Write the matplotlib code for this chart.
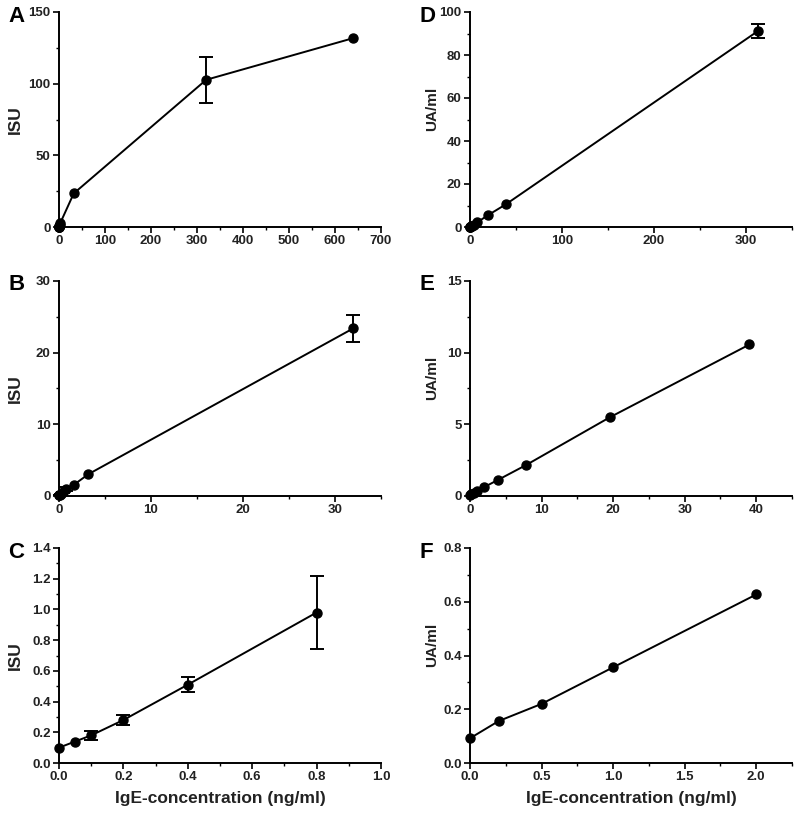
import numpy as np
import matplotlib.pyplot as plt
from matplotlib.ticker import MultipleLocator

plt.rcParams['font.family'] = ['Liberation Sans', 'DejaVu Sans']
plt.rcParams['font.weight'] = 'bold'

# ISU panels (A, B, C)
isu_x = [0, 0.05, 0.1, 0.2, 0.4, 0.8, 1.6, 3.2, 32, 320, 640]
isu_y = [0.10, 0.14, 0.18, 0.28, 0.51, 0.98, 1.55, 3.05, 23.4, 102.7, 131.8]
isu_err = [0.0, 0.0, 0.027, 0.035, 0.05, 0.235, 0.0, 0.0, 1.85, 16.2, 0.0]
isu_err_a = [0, 0, 0, 0, 0, 0, 0, 0, 0, 16.2, 0]  # panel A shows only the 320 bar

# UA/ml panels (D, E, F)
ua_x = [0, 0.2, 0.5, 1.0, 2.0, 3.9, 7.8, 19.5, 39.06, 312.5]
ua_y = [0.092, 0.156, 0.22, 0.356, 0.627, 1.12, 2.15, 5.48, 10.57, 91.0]
ua_err = [0, 0, 0, 0, 0, 0, 0, 0, 0, 3.3]

# letter, data, x max for data, xlim, ylim, x major, x minor, y major, y minor, ylabel
panels = [
    ("A", "isu_a", 640, 700, 150, 100, 50, 50, 25, "ISU"),
    ("B", "isu", 32, 35, 30, 10, 5, 10, 5, "ISU"),
    ("C", "isu", 0.8, 1.0, 1.4, 0.2, 0.1, 0.2, 0.1, "ISU"),
    ("D", "ua", 312.5, 350, 100, 100, 50, 20, 10, "UA/ml"),
    ("E", "ua", 39.06, 45, 15, 10, 5, 5, 2.5, "UA/ml"),
    ("F", "ua", 2.0, 2.25, 0.8, 0.5, 0.25, 0.2, 0.1, "UA/ml"),
]

fig = plt.figure(figsize=(8, 8.16), dpi=100)
W, H = 800, 816
lefts = [59, 470]
tops = [12, 281, 548]
aw, ah = 322, 215

for i, (letter, src, xmax, xlim, ylim, xmaj, xmin, ymaj, ymin, ylab) in enumerate(panels):
    col = i // 3
    row = i % 3
    left = lefts[col]
    top = tops[row]
    ax = fig.add_axes([left / W, 1 - (top + ah) / H, aw / W, ah / H])

    if src == "isu":
        x, y, e = np.array(isu_x), np.array(isu_y), np.array(isu_err)
    elif src == "isu_a":
        x, y, e = np.array(isu_x), np.array(isu_y), np.array(isu_err_a)
    else:
        x, y, e = np.array(ua_x), np.array(ua_y), np.array(ua_err)
    keep = x <= xmax
    x, y, e = x[keep], y[keep], e[keep]

    ax.plot(x, y, color='black', lw=1.4, clip_on=False, zorder=3)
    ax.errorbar(x[e > 0], y[e > 0], yerr=e[e > 0], fmt='none', ecolor='black',
                elinewidth=1.4, capsize=5, capthick=1.4, clip_on=False, zorder=3)
    ax.plot(x, y, 'o', color='black', ms=6.5, clip_on=False, zorder=4)

    ax.set_xlim(0, xlim)
    ax.set_ylim(0, ylim)
    ax.xaxis.set_major_locator(MultipleLocator(xmaj))
    ax.xaxis.set_minor_locator(MultipleLocator(xmin))
    ax.yaxis.set_major_locator(MultipleLocator(ymaj))
    ax.yaxis.set_minor_locator(MultipleLocator(ymin))
    if letter in ("C", "F"):
        ax.xaxis.set_major_formatter(lambda v, p: f"{v:.1f}")
        ax.yaxis.set_major_formatter(lambda v, p: f"{v:.1f}")
    else:
        ax.xaxis.set_major_formatter(lambda v, p: f"{v:g}")
        ax.yaxis.set_major_formatter(lambda v, p: f"{v:g}")

    for s in ("top", "right"):
        ax.spines[s].set_visible(False)
    for s in ("left", "bottom"):
        ax.spines[s].set_linewidth(1.4)
    ax.tick_params(which='major', length=4, width=1.2, labelsize=9.5, pad=2,
                   labelcolor='#222222')
    ax.tick_params(which='minor', length=2.5, width=1.0)
    for lbl in ax.get_xticklabels() + ax.get_yticklabels():
        lbl.set_fontweight('bold')

    if ylab == "ISU":
        ax.set_ylabel(ylab, fontsize=12.5, fontweight='bold', color='#222222')
        ax.yaxis.set_label_coords(-0.112, 0.5)
    else:
        ax.set_ylabel(ylab, fontsize=11, fontweight='bold', color='#222222')
        ax.yaxis.set_label_coords(-0.095, 0.55)
    if letter in ("C", "F"):
        ax.set_xlabel("IgE-concentration (ng/ml)", fontsize=12.5, fontweight='bold',
                      color='#222222')
        ax.xaxis.set_label_coords(0.5, -0.13)

    fig.text((left - 51) / W, 1 - (top + 4) / H, letter, fontsize=16,
             fontweight='bold', ha='left', va='center')

fig.savefig("out.png", dpi=100)
